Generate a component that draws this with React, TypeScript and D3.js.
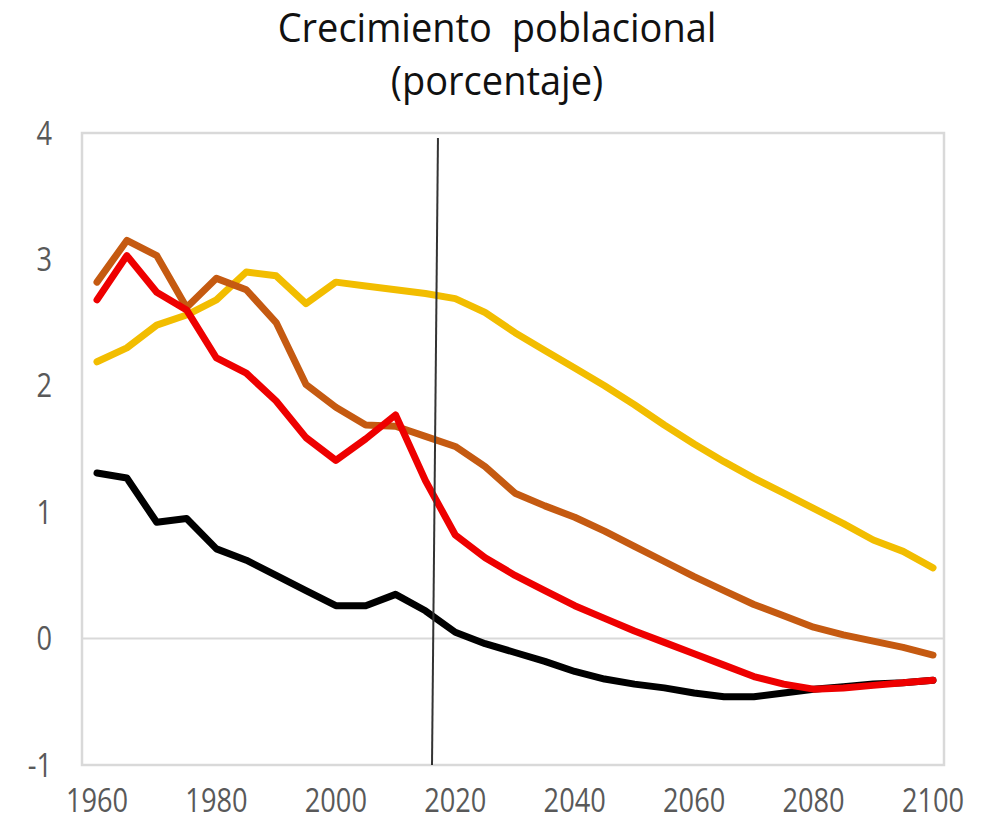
import React from "react";
import * as d3 from "d3";

const years = [1960, 1965, 1970, 1975, 1980, 1985, 1990, 1995, 2000, 2005, 2010, 2015, 2020, 2025, 2030, 2035, 2040, 2045, 2050, 2055, 2060, 2065, 2070, 2075, 2080, 2085, 2090, 2095, 2100];

const yellowSeries = [2.19, 2.30, 2.48, 2.56, 2.68, 2.90, 2.87, 2.65, 2.82, 2.79, 2.76, 2.73, 2.69, 2.58, 2.42, 2.28, 2.14, 2.00, 1.85, 1.69, 1.54, 1.40, 1.27, 1.15, 1.03, 0.91, 0.78, 0.69, 0.56];
const brownSeries = [2.82, 3.15, 3.03, 2.62, 2.85, 2.76, 2.50, 2.01, 1.83, 1.69, 1.68, 1.60, 1.52, 1.36, 1.15, 1.05, 0.96, 0.85, 0.73, 0.61, 0.49, 0.38, 0.27, 0.18, 0.09, 0.03, -0.02, -0.07, -0.13];
const redSeries = [2.68, 3.03, 2.74, 2.60, 2.22, 2.10, 1.88, 1.59, 1.41, 1.58, 1.77, 1.25, 0.82, 0.64, 0.50, 0.38, 0.26, 0.16, 0.06, -0.03, -0.12, -0.21, -0.30, -0.36, -0.40, -0.39, -0.37, -0.35, -0.33];
const blackSeries = [1.31, 1.27, 0.92, 0.95, 0.71, 0.62, 0.50, 0.38, 0.26, 0.26, 0.35, 0.22, 0.05, -0.04, -0.11, -0.18, -0.26, -0.32, -0.36, -0.39, -0.43, -0.46, -0.46, -0.43, -0.40, -0.38, -0.36, -0.35, -0.33];

const xTicks = [1960, 1980, 2000, 2020, 2040, 2060, 2080, 2100];
const yTicks = [-1, 0, 1, 2, 3, 4];
const titleLines = ["Crecimiento  poblacional", "(porcentaje)"];
const markerTopYear = 2017.1;
const markerBottomYear = 2016.1;

const seriesList = [
  { name: "amarillo", values: yellowSeries, color: "#f2bd00" },
  { name: "marron", values: brownSeries, color: "#c55a11" },
  { name: "negro", values: blackSeries, color: "#000000" },
  { name: "rojo", values: redSeries, color: "#ee0000" },
];

export default function App() {
  const width = 992;
  const height = 831;
  const frame = { left: 82, right: 944, top: 133, bottom: 765 };

  const x = d3.scaleLinear().domain([1960, 2100]).range([97, 933]);
  const y = d3.scaleLinear().domain([-1, 4]).range([frame.bottom, frame.top]);

  const line = d3
    .line<number>()
    .x((_, i) => x(years[i]))
    .y((d) => y(d));

  const numFont = "'Open Sans', 'DejaVu Sans', sans-serif";

  return (
    <svg
      width={width}
      height={height}
      style={{ position: "absolute", left: 0, top: 0, background: "#fff" }}
    >
      <rect x={0} y={0} width={width} height={height} fill="#fff" />
      {/* title */}
      {titleLines.map((t, i) => (
        <g key={t} transform={`translate(497,${42 + i * 53}) scale(0.95,1)`}>
          <text
            x={0}
            y={0}
            textAnchor="middle"
            fontFamily={numFont}
            fontSize={40}
            fill="#111"
            style={{ whiteSpace: "pre" }}
          >
            {t}
          </text>
        </g>
      ))}
      {/* frame */}
      <rect
        x={frame.left}
        y={frame.top}
        width={frame.right - frame.left}
        height={frame.bottom - frame.top}
        fill="none"
        stroke="#d9d9d9"
        strokeWidth={2.5}
      />
      {/* zero line */}
      <line
        x1={frame.left}
        x2={frame.right}
        y1={y(0)}
        y2={y(0)}
        stroke="#d9d9d9"
        strokeWidth={2}
      />
      {/* y tick labels */}
      {yTicks.map((v) => (
        <g key={v} transform={`translate(52,${y(v)}) scale(0.85,1)`}>
          <text
            x={0}
            y={0}
            dy="0.36em"
            textAnchor="end"
            fontFamily={numFont}
            fontSize={32}
            fill="#595959"
          >
            {v}
          </text>
        </g>
      ))}
      {/* x tick labels */}
      {xTicks.map((v) => (
        <g key={v} transform={`translate(${x(v)},${812}) scale(0.85,1)`}>
          <text
            x={0}
            y={0}
            textAnchor="middle"
            fontFamily={numFont}
            fontSize={32}
            fill="#595959"
          >
            {v}
          </text>
        </g>
      ))}
      {/* series */}
      {seriesList.map((s) => (
        <path
          key={s.name}
          d={line(s.values) || ""}
          fill="none"
          stroke={s.color}
          strokeWidth={7}
          strokeLinejoin="round"
          strokeLinecap="round"
        />
      ))}
      {/* vertical marker */}
      <line
        x1={x(markerTopYear)}
        y1={138}
        x2={x(markerBottomYear)}
        y2={frame.bottom}
        stroke="#333"
        strokeWidth={2}
      />
    </svg>
  );
}
